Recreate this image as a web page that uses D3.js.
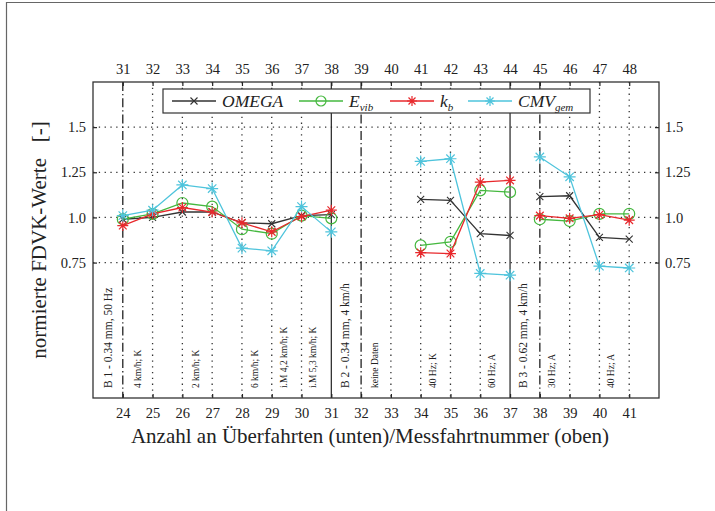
<!DOCTYPE html>
<html><head><meta charset="utf-8">
<script src="https://cdn.jsdelivr.net/npm/d3@7"></script>
<style>body{margin:0;background:#fff}svg{display:block}text{font-family:"Liberation Serif","DejaVu Serif",serif;fill:#222}</style>
</head><body><svg id="c" width="715" height="511"></svg>
<script>
const xBottom = [24,25,26,27,28,29,30,31,32,33,34,35,36,37,38,39,40,41];
const xTopLabels = [31,32,33,34,35,36,37,38,39,40,41,42,43,44,45,46,47,48];
const yTicks = [0.75,1.0,1.25,1.5];
const yTickLabels = ["0.75","1.0","1.25","1.5"];
const dashDotLines = [24,32,38];
const solidLines = [31,37];
const dottedLines = [25,26,27,28,29,30,33,34,35,36,39,40,41];
// series: null = no data (line broken)
const omega = [0.99,1.00,1.03,1.03,0.97,0.965,1.01,1.015,null,null,1.10,1.095,0.91,0.90,1.115,1.12,0.89,0.88];
const evib  = [0.99,1.02,1.08,1.06,0.935,0.91,1.01,0.995,null,null,0.845,0.865,1.15,1.14,0.99,0.98,1.02,1.02];
const kb    = [0.955,1.02,1.055,1.03,0.97,0.92,1.005,1.04,null,null,0.805,0.80,1.195,1.205,1.01,0.995,1.015,0.985];
const cmv   = [1.01,1.04,1.18,1.16,0.83,0.815,1.06,0.92,null,null,1.31,1.325,0.69,0.68,1.335,1.225,0.73,0.72];
const segments = [[24,31],[34,37],[38,41]];
const notes = [
  {x:23.5, t:"B 1 - 0.34 mm, 50 Hz", big:true},
  {x:24.5, t:"4 km/h; K"},
  {x:26.45, t:"2 km/h; K"},
  {x:28.45, t:"6 km/h; K"},
  {x:29.4, t:"i.M 4,2 km/h; K"},
  {x:30.4, t:"i.M 5,3 km/h; K"},
  {x:31.45, t:"B 2 - 0.34 mm, 4 km/h", big:true},
  {x:32.45, t:"keine Daten"},
  {x:34.4, t:"40 Hz; K"},
  {x:36.4, t:"60 Hz; A"},
  {x:37.45, t:"B 3 - 0.62 mm, 4 km/h", big:true},
  {x:38.4, t:"30 Hz; A"},
  {x:40.4, t:"40 Hz; A"}
];
const seriesDefs = [
  {name:"OMEGA", sub:null, vals:omega, color:"#333333", marker:"x"},
  {name:"E", sub:"vib", vals:evib, color:"#45b83f", marker:"o"},
  {name:"k", sub:"b", vals:kb, color:"#e8282c", marker:"*"},
  {name:"CMV", sub:"gem", vals:cmv, color:"#4ec4dc", marker:"*"}
];

const svg = d3.select("#c");
const L=93, R=659, T=82, B=398;
const x = d3.scaleLinear().domain([23,42]).range([L,R]);
const y = d3.scaleLinear().domain([0,1.75]).range([B,T]);

// page border
svg.append("line").attr("x1",6.5).attr("x2",6.5).attr("y1",2).attr("y2",511).attr("stroke","#666").attr("stroke-width",1.2);
svg.append("line").attr("x1",6).attr("x2",715).attr("y1",2.5).attr("y2",2.5).attr("stroke","#666").attr("stroke-width",1.2);

// grid
const g = svg.append("g");
g.selectAll(".hg").data(yTicks).join("line").attr("x1",L).attr("x2",R).attr("y1",d=>y(d)).attr("y2",d=>y(d))
  .attr("stroke","#333").attr("stroke-width",1.3).attr("stroke-dasharray","1.3,4.5");
g.selectAll(".vd").data(dottedLines).join("line").attr("x1",d=>x(d)).attr("x2",d=>x(d)).attr("y1",T).attr("y2",B)
  .attr("stroke","#333").attr("stroke-width",1.3).attr("stroke-dasharray","1.3,4.5");
g.selectAll(".vdd").data(dashDotLines).join("line").attr("x1",d=>x(d)).attr("x2",d=>x(d)).attr("y1",T).attr("y2",B)
  .attr("stroke","#222").attr("stroke-width",1.3).attr("stroke-dasharray","9,3,1.3,3");
g.selectAll(".vs").data(solidLines).join("line").attr("x1",d=>x(d)).attr("x2",d=>x(d)).attr("y1",T).attr("y2",B)
  .attr("stroke","#222").attr("stroke-width",1.2);

// axes
const fs = "14.5px";
const axB = svg.append("g").attr("transform",`translate(0,${B})`).call(d3.axisBottom(x).tickValues(xBottom).tickFormat(d3.format("d")).tickSizeInner(-4).tickSizeOuter(0).tickPadding(10));
const axT = svg.append("g").attr("transform",`translate(0,${T})`).call(d3.axisTop(x).tickValues(xBottom).tickFormat((d,i)=>xTopLabels[i]).tickSizeInner(-4).tickSizeOuter(0).tickPadding(8));
const axL = svg.append("g").attr("transform",`translate(${L},0)`).call(d3.axisLeft(y).tickValues(yTicks).tickFormat((d,i)=>yTickLabels[i]).tickSizeInner(-4).tickSizeOuter(0).tickPadding(7));
const axR = svg.append("g").attr("transform",`translate(${R},0)`).call(d3.axisRight(y).tickValues(yTicks).tickFormat((d,i)=>yTickLabels[i]).tickSizeInner(-4).tickSizeOuter(0).tickPadding(6));
[axB,axT,axL,axR].forEach(a=>{a.select(".domain").remove();a.selectAll("line").attr("stroke","#222").attr("stroke-width",1.2);
  a.selectAll("text").attr("font-size",fs).attr("fill","#222");});
svg.append("rect").attr("x",L).attr("y",T).attr("width",R-L).attr("height",B-T).attr("fill","none").attr("stroke","#333").attr("stroke-width",1.3);

// notes
svg.selectAll(".note").data(notes).join("text")
  .attr("transform",d=>`translate(${x(d.x)},${y(0.055)}) rotate(-90)`)
  .attr("dominant-baseline","central").attr("font-size",d=>d.big?"11.5px":"9.5px").text(d=>d.t);

// series
function drawMarker(sel, type, color, size){
  if(type==="x"){
    sel.append("path").attr("d",`M${-size},${-size}L${size},${size}M${-size},${size}L${size},${-size}`).attr("stroke",color).attr("stroke-width",1.1).attr("fill","none");
  } else if(type==="o"){
    sel.append("circle").attr("r",size).attr("fill","none").attr("stroke",color).attr("stroke-width",1.2);
  } else {
    const s=size, d=s*0.7;
    sel.append("path").attr("d",`M0,${-s}L0,${s}M${-s},0L${s},0M${-d},${-d}L${d},${d}M${-d},${d}L${d},${-d}`).attr("stroke",color).attr("stroke-width",1.2).attr("fill","none");
  }
}
const msize = {x:3.5, o:5.5, "*":5.5};
seriesDefs.forEach(sd=>{
  const pts = xBottom.map((xv,i)=>({x:xv,v:sd.vals[i]})).filter(p=>p.v!==null);
  const line = d3.line().x(p=>x(p.x)).y(p=>y(p.v));
  segments.forEach(([a,b])=>{
    const seg = pts.filter(p=>p.x>=a&&p.x<=b);
    svg.append("path").datum(seg).attr("d",line).attr("fill","none").attr("stroke",sd.color).attr("stroke-width",1.3);
  });
  const mk = svg.selectAll(null).data(pts).join("g").attr("transform",p=>`translate(${x(p.x)},${y(p.v)})`);
  mk.each(function(){drawMarker(d3.select(this), sd.marker, sd.color, sd.marker==="*" && sd.name==="CMV"?6:msize[sd.marker]);});
});

// legend
const lg = svg.append("g");
lg.append("rect").attr("x",163).attr("y",89).attr("width",427).attr("height",24).attr("fill","#fff").attr("stroke","#333").attr("stroke-width",1.2);
const legPos = [172,299,390,468];
seriesDefs.forEach((sd,i)=>{
  const lx = legPos[i], ly = 101;
  lg.append("line").attr("x1",lx).attr("x2",lx+44).attr("y1",ly).attr("y2",ly).attr("stroke",sd.color).attr("stroke-width",1.3);
  const m = lg.append("g").attr("transform",`translate(${lx+22},${ly})`);
  drawMarker(m, sd.marker, sd.color, sd.marker==="x"?3.5:5);
  const t = lg.append("text").attr("x",lx+50).attr("y",ly+5.5).attr("font-size","17.5px").attr("font-style","italic");
  t.append("tspan").text(sd.name);
  if(sd.sub) t.append("tspan").attr("font-size","11px").attr("dy",4).text(sd.sub);
});

// axis titles
svg.append("text").attr("x",370).attr("y",443).attr("text-anchor","middle").attr("font-size","21px").text("Anzahl an Überfahrten (unten)/Messfahrtnummer (oben)");
svg.append("text").attr("transform",`translate(46,240) rotate(-90)`).attr("text-anchor","middle").attr("font-size","21px").attr("xml:space","preserve").text("normierte FDVK-Werte   [-]");
</script></body></html>
